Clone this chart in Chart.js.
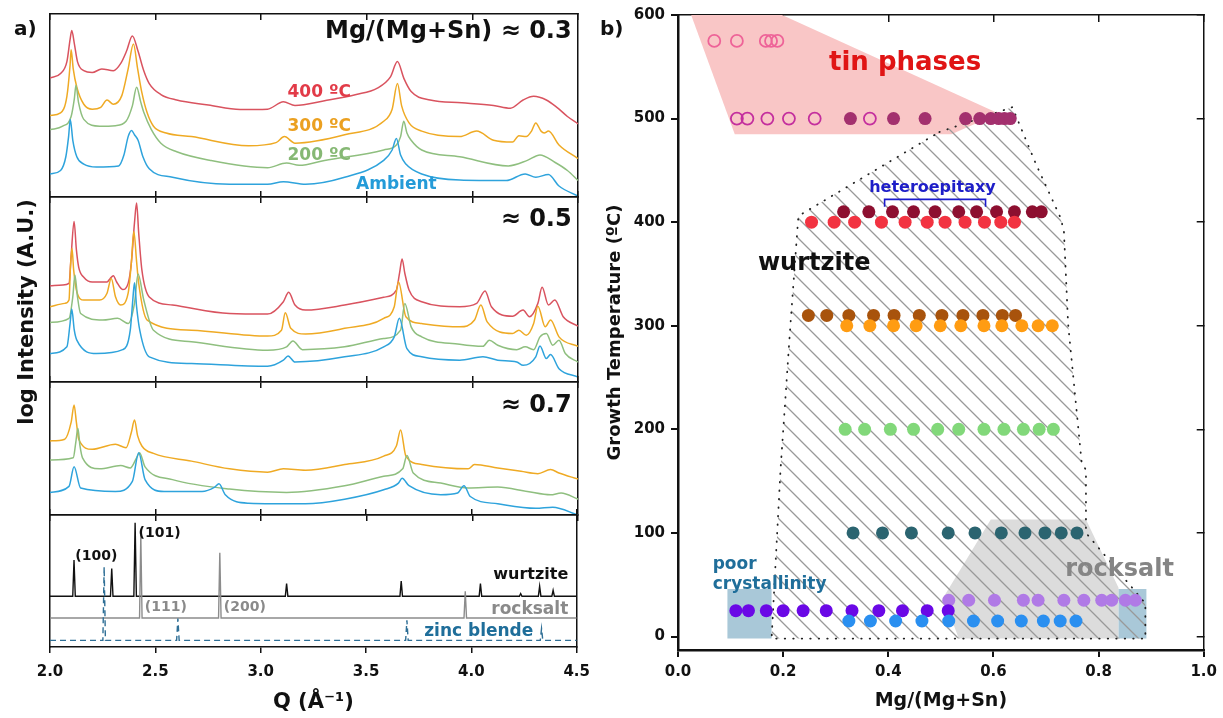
<!DOCTYPE html>
<html>
<head>
<meta charset="utf-8">
<script src="https://cdn.jsdelivr.net/npm/chart.js@4.4.1/dist/chart.umd.min.js"></script>
<style>
  body { margin: 0; background: #fff; }
  #wrap { position: relative; width: 1223px; height: 718px; overflow: hidden; }
  canvas { position: absolute; }
  .lbl { position: absolute; font-family: "DejaVu Sans", sans-serif; font-weight: bold; color: #111; white-space: nowrap; }
</style>
</head>
<body>
<div id="wrap">
  <canvas id="s1"></canvas>
  <canvas id="s2"></canvas>
  <canvas id="s3"></canvas>
  <canvas id="s4"></canvas>
  <canvas id="rc"></canvas>
  <div class="lbl" style="left:14px;top:16px;font-size:20px">a)</div>
  <div class="lbl" style="left:600px;top:16px;font-size:20px">b)</div>
  <div class="lbl" style="left:26px;top:312px;font-size:21px;transform:translate(-50%,-50%) rotate(-90deg)">log Intensity (A.U.)</div>
</div>

<script>
const FONT = "DejaVu Sans";

// ---- panel a) : XRD curves, [Q, log intensity] (0..100 per sub panel)
// Mg/(Mg+Sn) ~ 0.3
const s1Red = [[2.00,65],[2.05,67.5],[2.08,74],[2.095,86],[2.103,91],[2.115,84],[2.13,74],[2.16,69],[2.20,68],[2.245,70],[2.30,69],[2.335,73],[2.362,79.6],[2.39,88],[2.417,79.6],[2.444,69],[2.47,62],[2.525,56],[2.60,53],[2.75,50.3],[2.90,47.8],[3.03,48],[3.105,52],[3.16,50],[3.30,52.6],[3.45,56],[3.55,59.5],[3.612,65.6],[3.645,74],[3.676,64.7],[3.71,57.6],[3.80,53],[3.95,51.5],[4.10,50],[4.18,48.5],[4.24,53],[4.29,55],[4.35,53],[4.40,49],[4.45,44],[4.50,40]];
const s1Orange = [[2.00,44.6],[2.05,46],[2.08,55],[2.095,72],[2.10,80.5],[2.11,70],[2.127,60],[2.16,50.7],[2.20,48],[2.24,49],[2.27,53],[2.30,50.7],[2.34,55.4],[2.37,70],[2.395,83.6],[2.415,70],[2.435,57],[2.46,46],[2.49,38.7],[2.55,35],[2.67,33],[2.94,28],[3.07,29.7],[3.11,33],[3.16,29.4],[3.395,34],[3.58,41.4],[3.62,48],[3.645,62],[3.665,49.8],[3.70,40.5],[3.76,36],[3.94,33],[4.02,36],[4.10,31],[4.19,30],[4.22,33.5],[4.255,33],[4.28,36],[4.30,40.5],[4.325,36],[4.34,35],[4.36,36],[4.41,28.4],[4.50,21]];
const s1Green = [[2.00,36.8],[2.06,38.7],[2.10,44],[2.115,53.5],[2.123,61],[2.135,51.7],[2.16,42.4],[2.235,38.7],[2.31,39],[2.36,41.4],[2.39,49.8],[2.41,60],[2.43,51.7],[2.445,46],[2.48,36.8],[2.525,29.4],[2.60,24.7],[2.76,20],[3.03,16],[3.12,18.6],[3.18,17.3],[3.30,20],[3.58,25.7],[3.64,28.4],[3.66,33],[3.675,41.4],[3.69,35],[3.71,31],[3.76,25.7],[3.94,22],[4.17,17],[4.26,20],[4.32,23],[4.39,19],[4.45,14.5],[4.50,9]];
const s1Blue = [[2.00,12.6],[2.05,14.5],[2.075,22],[2.088,33],[2.096,42.4],[2.108,31],[2.127,22],[2.16,18],[2.22,16.4],[2.325,17],[2.35,22.9],[2.37,33],[2.386,36.4],[2.40,34],[2.417,31],[2.44,22],[2.47,15.4],[2.58,10.8],[2.85,7],[3.03,7],[3.105,8.4],[3.21,7],[3.395,10.8],[3.58,20],[3.62,25.7],[3.64,32],[3.66,22.9],[3.685,18],[3.76,12.6],[3.94,9.3],[4.16,9],[4.25,12.6],[4.30,10.8],[4.36,12.3],[4.41,6],[4.50,0.5]];
// ~ 0.5
const s2Red = [[2.00,52],[2.06,52.4],[2.09,53.3],[2.10,68],[2.114,86.8],[2.125,71.4],[2.136,62],[2.16,56.6],[2.20,54],[2.27,54],[2.285,56],[2.30,57.5],[2.315,54.2],[2.344,50],[2.37,53.3],[2.385,64.2],[2.40,86],[2.41,96.7],[2.42,80.5],[2.435,60.6],[2.47,46],[2.58,41.6],[2.85,37],[3.03,36.7],[3.105,43.4],[3.13,48.5],[3.16,41.6],[3.21,38.9],[3.395,41.6],[3.58,45.8],[3.64,49.7],[3.655,58.8],[3.667,66.5],[3.68,58.8],[3.70,49.7],[3.76,43.4],[3.94,40.7],[4.02,42.5],[4.06,49.2],[4.09,40.7],[4.19,35.6],[4.24,38.9],[4.27,35.3],[4.31,42.5],[4.33,51.2],[4.36,41.6],[4.39,44.3],[4.43,35.3],[4.50,30.2]];
const s2Orange = [[2.00,40.7],[2.07,42.5],[2.09,44.3],[2.097,62.4],[2.104,72.3],[2.112,60.6],[2.127,48.8],[2.16,44.3],[2.235,44.3],[2.27,48],[2.29,56],[2.31,46.1],[2.335,41.6],[2.37,48],[2.385,64.2],[2.397,81.4],[2.41,65.1],[2.42,53.3],[2.46,33.5],[2.67,28],[3.03,24.8],[3.096,28],[3.114,37.4],[3.14,29],[3.21,25.9],[3.395,29],[3.58,34.4],[3.63,40.7],[3.65,54.2],[3.685,35.3],[3.76,31.6],[3.94,29.8],[4.01,33.5],[4.04,41.6],[4.07,32.5],[4.19,26.2],[4.22,28],[4.255,25.3],[4.29,31.6],[4.31,41],[4.345,29.8],[4.37,33.5],[4.41,24.4],[4.50,19.3]];
const s2Green = [[2.00,32.2],[2.09,34.4],[2.108,46.1],[2.118,57.9],[2.13,46.1],[2.145,37],[2.25,33.5],[2.32,34.4],[2.37,31.6],[2.40,42.5],[2.417,58.4],[2.444,44.3],[2.49,28],[2.67,21.7],[3.03,17.2],[3.12,19],[3.15,22.2],[3.195,17.5],[3.395,19],[3.58,23.5],[3.66,28],[3.68,42.5],[3.71,29.8],[3.76,24.4],[3.94,20.4],[4.05,19.3],[4.08,22.6],[4.12,19.9],[4.21,17.5],[4.25,19],[4.29,17.5],[4.32,24.4],[4.35,26.2],[4.38,19.9],[4.41,22.6],[4.44,15.4],[4.50,10.8]];
const s2Blue = [[2.00,15.4],[2.08,19],[2.095,31.6],[2.103,39.4],[2.115,28],[2.127,22.6],[2.22,15.4],[2.344,17.5],[2.38,28],[2.392,44.3],[2.40,53.7],[2.41,40.7],[2.425,28],[2.47,13.6],[2.67,10],[3.03,8.5],[3.105,11.8],[3.127,14.1],[3.16,10.8],[3.395,13.6],[3.58,19],[3.63,24.4],[3.654,34.4],[3.69,18],[3.76,13.6],[3.94,11.8],[4.05,13.6],[4.12,11.8],[4.21,10.8],[4.24,9],[4.30,13.6],[4.32,19.5],[4.35,12.7],[4.37,14.8],[4.41,7.2],[4.50,2.7]];
// ~ 0.7
const s3Orange = [[2.00,55.7],[2.07,57],[2.10,69.6],[2.114,82.8],[2.125,69.6],[2.136,57],[2.20,49.4],[2.31,53.2],[2.36,50.6],[2.385,62],[2.40,71.4],[2.415,59.5],[2.435,51.9],[2.49,46.3],[2.67,40.5],[2.85,34.7],[3.03,32.2],[3.105,34.7],[3.21,33.7],[3.395,38],[3.58,44.3],[3.64,51.9],[3.66,64],[3.685,44.3],[3.76,38],[3.98,34.7],[4.01,38],[4.12,35.4],[4.23,32.9],[4.31,31.1],[4.37,34.2],[4.41,31.6],[4.50,27]];
const s3Green = [[2.00,41.3],[2.11,43],[2.122,54.4],[2.132,65.3],[2.142,51.9],[2.154,43],[2.235,34.7],[2.335,37.2],[2.38,35.4],[2.41,43],[2.424,46.8],[2.45,36.2],[2.58,26.6],[2.85,19.5],[3.12,17],[3.395,22],[3.58,29.1],[3.67,34.7],[3.69,44.8],[3.72,31.6],[3.85,24],[3.98,20.3],[4.12,21],[4.26,17.7],[4.37,15.2],[4.42,16.5],[4.50,11.9]];
const s3Blue = [[2.00,17],[2.09,21.5],[2.114,36.2],[2.145,20.3],[2.31,17.7],[2.39,25.3],[2.42,46.8],[2.45,26.6],[2.54,17.7],[2.72,17.7],[2.78,21],[2.80,23.5],[2.83,15.2],[2.94,8.9],[3.21,8.4],[3.395,11.9],[3.58,19],[3.65,24],[3.667,27.6],[3.70,22],[3.85,15.2],[3.93,16.5],[3.96,22],[3.99,13.9],[4.12,8.4],[4.30,5],[4.38,5.8],[4.50,0]];

// reference patterns (peak Q, peak height, baseline)
const wzPeakQ = [2.114, 2.293, 2.404, 3.123, 3.667, 4.043, 4.234, 4.324, 4.388];
const wzPeakI = [65.8, 59.5, 94.2, 48.1, 49.9, 48.1, 40.5, 46, 43];
const wzBase = 38.5;
const rsPeakQ = [2.431, 2.806, 3.971];
const rsPeakI = [84.8, 71.4, 42.3];
const rsBase = 22;
const zbPeakQ = [2.257, 2.607, 3.694, 4.333];
const zbPeakI = [60.8, 21.5, 20.3, 13.9];
const zbBase = 5;

// ---- panel b) : Mg/(Mg+Sn) per growth temperature
const t575Open = [0.069, 0.112, 0.167, 0.177, 0.189];
const t500Open = [0.112, 0.132, 0.170, 0.211, 0.260, 0.365];
const t500Fill = [0.328, 0.410, 0.470, 0.547, 0.574, 0.595, 0.610, 0.621, 0.632];
const t410 = [0.315, 0.363, 0.408, 0.448, 0.489, 0.534, 0.568, 0.606, 0.640, 0.674, 0.691];
const t400 = [0.254, 0.297, 0.336, 0.387, 0.432, 0.474, 0.508, 0.546, 0.583, 0.614, 0.640];
const t310 = [0.248, 0.283, 0.325, 0.372, 0.411, 0.459, 0.502, 0.542, 0.580, 0.617, 0.642];
const t300 = [0.321, 0.365, 0.410, 0.453, 0.499, 0.538, 0.582, 0.616, 0.654, 0.685, 0.712];
const t200 = [0.318, 0.355, 0.404, 0.448, 0.494, 0.534, 0.582, 0.620, 0.657, 0.687, 0.714];
const t100 = [0.333, 0.389, 0.444, 0.514, 0.565, 0.615, 0.660, 0.698, 0.729, 0.759];
const t35 = [0.515, 0.553, 0.602, 0.657, 0.685, 0.734, 0.772, 0.806, 0.825, 0.851, 0.870];
const t25 = [0.110, 0.134, 0.168, 0.200, 0.238, 0.282, 0.331, 0.382, 0.427, 0.474, 0.514];
const t15 = [0.325, 0.366, 0.414, 0.464, 0.515, 0.562, 0.608, 0.653, 0.695, 0.727, 0.757];

// phase regions (Mg fraction, temperature)
const tinX = [0.025, 0.198, 0.61, 0.52, 0.108, 0.025];
const tinY = [600, 600, 505, 485, 485, 600];
const wzX = [0.497, 0.636, 0.681, 0.727, 0.734, 0.742, 0.768, 0.776, 0.776, 0.889, 0.889, 0.178, 0.195, 0.214, 0.229, 0.497];
const wzY = [487, 511, 456, 405, 392, 302, 167, 161, 100, 32, -2, -2, 161, 302, 406, 487];
const rsX = [0.595, 0.776, 0.838, 0.838, 0.534, 0.505, 0.595];
const rsY = [113, 113, 47, -2, -2, 38, 113];
const pcLeftX = [0.094, 0.178, 0.178, 0.094, 0.094];
const pcRightX = [0.838, 0.891, 0.891, 0.838, 0.838];
const pcY = [46, 46, -2, -2, 46];
const bracketX = [0.393, 0.393, 0.585, 0.585];
const bracketY = [415, 422, 422, 415];

// =======================
// HELPERS
// =======================
function textPlugin(items) {
  return {
    id: "txt",
    afterDatasetsDraw(chart) {
      const { ctx, scales } = chart;
      items.forEach(a => {
        ctx.save();
        ctx.font = "bold " + a.size + "px '" + FONT + "'";
        ctx.fillStyle = a.color || "#111";
        ctx.textAlign = a.align || "center";
        ctx.textBaseline = "middle";
        ctx.fillText(a.text, scales.x.getPixelForValue(a.x), scales.y.getPixelForValue(a.y));
        ctx.restore();
      });
    }
  };
}

function curve(pts, color) {
  return {
    data: pts, borderColor: color, borderWidth: 1.5, pointRadius: 0,
    cubicInterpolationMode: "monotone", fill: false
  };
}

function sticks(qs, is, base, color, dash) {
  const pts = [[2.0, base]];
  qs.forEach((q, i) => {
    pts.push([q - 0.006, base], [q, is[i]], [q + 0.006, base]);
  });
  pts.push([4.5, base]);
  return {
    data: pts, borderColor: color, borderWidth: 1.4, pointRadius: 0,
    tension: 0, fill: false, borderDash: dash || []
  };
}

const line = "#111";

function xrdChart(id, top, bottom, first, last, datasets, labels) {
  const cTop = top - 10;
  const h = last ? 718 - cTop : bottom - top + 20;
  const cv = document.getElementById(id);
  cv.width = 600; cv.height = h;
  cv.style.left = "0px"; cv.style.top = cTop + "px";
  cv.style.width = "600px"; cv.style.height = h + "px";

  datasets.forEach((d, i) => { d.order = datasets.length - i; });

  return new Chart(cv, {
    type: "line",
    data: { datasets },
    options: {
      responsive: false, animation: false, events: [],
      layout: { padding: { left: 50, right: 22, top: 10, bottom: last ? 0 : 10 } },
      plugins: { legend: { display: false }, tooltip: { enabled: false } },
      scales: {
        x: {
          type: "linear", position: "bottom", min: 2, max: 4.5,
          ticks: {
            display: last, stepSize: 0.5, autoSkip: false, maxRotation: 0,
            callback: v => v.toFixed(1), color: line, padding: 10,
            font: { family: FONT, size: 15, weight: "bold" }
          },
          grid: { drawOnChartArea: false, tickLength: 6, color: line, lineWidth: 1.5 },
          border: { color: line, width: 1.5 },
          title: {
            display: last, text: "Q (Å⁻¹)", color: line,
            font: { family: FONT, size: 21, weight: "bold" }, padding: { top: 0, bottom: 3 }
          },
          afterFit: s => { s.height = last ? 71 : 0; }
        },
        x2: {
          type: "linear", position: "top", min: 2, max: 4.5,
          ticks: { display: false, stepSize: 0.5 },
          grid: { drawOnChartArea: false, tickLength: first ? -6 : 6, color: line, lineWidth: 1.5 },
          border: { color: line, width: 1.5 },
          afterFit: s => { s.height = 0; }
        },
        y: {
          type: "linear", position: "left", min: 0, max: 100,
          ticks: { display: false }, grid: { display: false },
          border: { color: line, width: 1.5 },
          afterFit: s => { s.width = 0; }
        },
        y2: {
          type: "linear", position: "right", min: 0, max: 100,
          ticks: { display: false }, grid: { display: false },
          border: { color: line, width: 1.5 },
          afterFit: s => { s.width = 0; }
        }
      }
    },
    plugins: [textPlugin(labels)]
  });
}

const cRed = "#d9535f", cOrange = "#efaa24", cGreen = "#8fbf7f", cBlue = "#2ea3dc";

xrdChart("s1", 14, 197, true, false,
  [curve(s1Red, cRed), curve(s1Orange, cOrange), curve(s1Green, cGreen), curve(s1Blue, cBlue)],
  [
    { text: "Mg/(Mg+Sn) ≈ 0.3", x: 4.47, y: 90.5, size: 24, align: "right" },
    { text: "400 ºC", x: 3.275, y: 57.2, size: 17, color: "#e23b48" },
    { text: "300 ºC", x: 3.275, y: 38.3, size: 17, color: "#eba020" },
    { text: "200 ºC", x: 3.275, y: 22.9, size: 17, color: "#86b874" },
    { text: "Ambient", x: 3.64, y: 7, size: 17, color: "#249bd8" }
  ]);

xrdChart("s2", 197, 382, false, false,
  [curve(s2Red, cRed), curve(s2Orange, cOrange), curve(s2Green, cGreen), curve(s2Blue, cBlue)],
  [{ text: "≈ 0.5", x: 4.47, y: 87.7, size: 24, align: "right" }]);

xrdChart("s3", 382, 515, false, false,
  [curve(s3Orange, cOrange), curve(s3Green, cGreen), curve(s3Blue, cBlue)],
  [{ text: "≈ 0.7", x: 4.47, y: 82, size: 24, align: "right" }]);

xrdChart("s4", 515, 647, false, true,
  [
    sticks(wzPeakQ, wzPeakI, wzBase, "#111"),
    sticks(rsPeakQ, rsPeakI, rsBase, "#8c8c8c"),
    sticks(zbPeakQ, zbPeakI, zbBase, "#2f6f96", [6, 4])
  ],
  [
    { text: "(100)", x: 2.22, y: 68.4, size: 14 },
    { text: "(101)", x: 2.52, y: 86, size: 14 },
    { text: "wurtzite", x: 4.46, y: 54.4, size: 16, align: "right" },
    { text: "(111)", x: 2.55, y: 30, size: 14, color: "#8a8a8a" },
    { text: "(200)", x: 2.925, y: 30.4, size: 14, color: "#8a8a8a" },
    { text: "rocksalt", x: 4.46, y: 28.6, size: 17, color: "#8a8a8a", align: "right" },
    { text: "zinc blende", x: 4.035, y: 11.4, size: 17, color: "#1f6e9a" }
  ]);

// =======================
// PANEL b)
// =======================
const rc = document.getElementById("rc");
rc.width = 623; rc.height = 718;
rc.style.left = "600px"; rc.style.top = "0px";
rc.style.width = "623px"; rc.style.height = "718px";

function hatchPattern() {
  const tile = document.createElement("canvas");
  tile.width = 20; tile.height = 20;
  const g = tile.getContext("2d");
  g.strokeStyle = "#999";
  g.lineWidth = 1.3;
  g.beginPath();
  g.moveTo(-2, -2); g.lineTo(22, 22);
  g.moveTo(18, -2); g.lineTo(22, 2);
  g.moveTo(-2, 18); g.lineTo(2, 22);
  g.stroke();
  return rc.getContext("2d").createPattern(tile, "repeat");
}

function region(xs, ys, fillColor, extra) {
  return Object.assign({
    data: xs.map((x, i) => ({ x, y: ys[i] })),
    showLine: true, fill: "shape", backgroundColor: fillColor,
    borderWidth: 0, borderColor: "rgba(0,0,0,0)", pointRadius: 0, tension: 0
  }, extra || {});
}

function row(xs, t, color, open) {
  return {
    data: xs.map(x => ({ x, y: t })),
    showLine: false, pointRadius: open ? 6 : 6.5,
    pointBackgroundColor: open ? "rgba(0,0,0,0)" : color,
    pointBorderColor: color, pointBorderWidth: open ? 1.8 : 0
  };
}

const rightSets = [
  region(tinX, tinY, "#f9c6c6"),
  region(rsX, rsY, "#dcdcdc"),
  region(pcLeftX, pcY, "#a9c8d8"),
  region(pcRightX, pcY, "#a9c8d8"),
  region(wzX, wzY, hatchPattern(), {
    borderWidth: 1.8, borderColor: "#222", borderDash: [0.5, 8], borderCapStyle: "round"
  }),
  {
    data: bracketX.map((x, i) => ({ x, y: bracketY[i] })),
    showLine: true, borderColor: "#1a1acd", borderWidth: 1.6, pointRadius: 0, tension: 0
  },
  row(t575Open, 575, "#ee6398", true),
  row(t500Open, 500, "#c42f9e", true),
  row(t500Fill, 500, "#a3306e"),
  row(t410, 410, "#8d0f30"),
  row(t400, 400, "#f23341"),
  row(t310, 310, "#a8530c"),
  row(t300, 300, "#ff9c12"),
  row(t200, 200, "#82d87a"),
  row(t100, 100, "#2b6470"),
  row(t35, 35, "#b07ae6"),
  row(t25, 25, "#6a08e6"),
  row(t15, 15, "#2a8ff0")
];
rightSets.forEach((d, i) => { d.order = rightSets.length - i; });

const tickFont = { family: FONT, size: 15, weight: "bold" };

new Chart(rc, {
  type: "scatter",
  data: { datasets: rightSets },
  options: {
    responsive: false, animation: false, events: [],
    layout: { padding: { left: 0, right: 19, top: 15, bottom: 0 } },
    plugins: { legend: { display: false }, tooltip: { enabled: false } },
    scales: {
      x: {
        type: "linear", position: "bottom", min: 0, max: 1,
        ticks: { stepSize: 0.2, callback: v => v.toFixed(1), font: tickFont, color: line, padding: 6, maxRotation: 0 },
        grid: { drawOnChartArea: false, tickLength: 7, color: line, lineWidth: 2 },
        border: { color: line, width: 2.5 },
        title: { display: true, text: "Mg/(Mg+Sn)", color: line, font: { family: FONT, size: 19, weight: "bold" }, padding: { top: 0, bottom: 6 } },
        afterFit: s => { s.height = 68; }
      },
      x2: {
        type: "linear", position: "top", min: 0, max: 1,
        ticks: { display: false, stepSize: 0.2 },
        grid: { drawOnChartArea: false, tickLength: -7, color: line, lineWidth: 1.5 },
        border: { color: line, width: 1.5 },
        afterFit: s => { s.height = 0; }
      },
      y: {
        type: "linear", position: "left", min: -13, max: 600,
        ticks: { stepSize: 100, includeBounds: false, font: tickFont, color: line, padding: 6 },
        grid: { drawOnChartArea: false, tickLength: 7, color: line, lineWidth: 2 },
        border: { color: line, width: 2.5 },
        title: { display: true, text: "Growth Temperature (ºC)", color: line, font: { family: FONT, size: 18, weight: "bold" }, padding: { top: 5, bottom: 0 } },
        afterFit: s => { s.width = 78; }
      },
      y2: {
        type: "linear", position: "right", min: -13, max: 600,
        ticks: { display: false, stepSize: 100, includeBounds: false },
        grid: { drawOnChartArea: false, tickLength: -7, color: line, lineWidth: 1.5 },
        border: { color: line, width: 1.5 },
        afterFit: s => { s.width = 0; }
      }
    }
  },
  plugins: [textPlugin([
    { text: "tin phases", x: 0.432, y: 553, size: 26, color: "#e01414" },
    { text: "heteroepitaxy", x: 0.484, y: 433, size: 16, color: "#1e1ec8" },
    { text: "wurtzite", x: 0.259, y: 360, size: 24 },
    { text: "rocksalt", x: 0.84, y: 64.5, size: 24, color: "#858585" },
    { text: "poor", x: 0.066, y: 69, size: 17, color: "#1f6e9a", align: "left" },
    { text: "crystallinity", x: 0.066, y: 50, size: 17, color: "#1f6e9a", align: "left" }
  ])]
});
</script>
</body>
</html>
